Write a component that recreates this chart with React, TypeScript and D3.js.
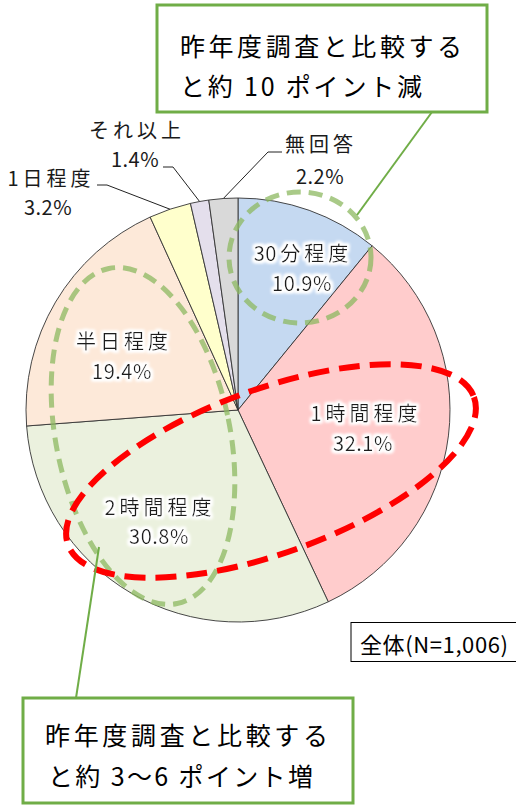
import React from "react";
import * as d3 from "d3";

// ---- data ----
const categories = ["30分程度", "1時間程度", "2時間程度", "半日程度", "1日程度", "それ以上", "無回答"];
const percents = [10.9, 32.1, 30.8, 19.4, 3.2, 1.4, 2.2];
const sliceColors = ["#c5d9f1", "#ffcccc", "#ebf1de", "#fde9d9", "#ffffcc", "#e4dfec", "#d9d9d9"];
const sampleLabel = "全体(N=1,006)";
const noteTop = ["昨年度調査と比較する", "と約 10 ポイント減"];
const noteBottom = ["昨年度調査と比較する", "と約 3〜6 ポイント増"];

// ---- layout (label placement) ----
const CX = 238, CY = 410, R = 212;
const nameX = [301, 364, 158, 122, 49, 135, 319];
const nameY = [252, 412, 506, 340, 177, 129, 143];
const pctX = [302, 363, 159, 122, 48, 135, 320];
const pctY = [282, 442, 535, 370, 206, 158, 175];
const inside = [true, true, true, true, false, false, false];
// leader elbow: [xLabelSide, xElbow, y]
const elbows: Record<number, [number, number, number]> = {
  4: [97, 107, 185],
  5: [163, 173, 167],
  6: [282, 268, 152],
};

const FONT = "'Noto Sans CJK JP', 'Noto Sans', sans-serif";

function Name({ text, x, y }: { text: string; x: number; y: number }) {
  const m = text.match(/^(\d*)(.*)$/) as RegExpMatchArray;
  const digits = m[1];
  const rest = m[2];
  return (
    <text x={x + 2} y={y} textAnchor="middle" dominantBaseline="central">
      {digits ? <tspan letterSpacing={0.5}>{digits.slice(0, -1)}</tspan> : null}
      {digits ? <tspan letterSpacing={4}>{digits.slice(-1)}</tspan> : null}
      <tspan letterSpacing={4}>{rest}</tspan>
    </text>
  );
}

export default function App() {
  const data = categories.map((c, i) => ({ name: c, value: percents[i], color: sliceColors[i], i }));
  const pie = d3.pie<any>().sort(null).value((d) => d.value).startAngle(0).endAngle(2 * Math.PI);
  const arcs = pie(data);
  const arc = d3.arc<any>().innerRadius(0).outerRadius(R);
  const edgeArc = d3.arc<any>().innerRadius(R).outerRadius(R);

  const green = "#8cb860";
  const boxGreen = "#70ad47";

  return (
    <svg width={516} height={805} style={{ position: "absolute", left: 0, top: 0, background: "#fff" }} fontFamily={FONT}>
      <defs>
        <filter id="glow" x="-20%" y="-40%" width="140%" height="180%">
          <feMorphology in="SourceAlpha" operator="dilate" radius="1.5" result="d" />
          <feGaussianBlur in="d" stdDeviation="1.6" result="b" />
          <feFlood floodColor="#ffffff" result="w" />
          <feComposite in="w" in2="b" operator="in" result="g" />
          <feMerge>
            <feMergeNode in="g" />
            <feMergeNode in="g" />
            <feMergeNode in="SourceGraphic" />
          </feMerge>
        </filter>
      </defs>

      <g transform={`translate(${CX},${CY})`}>
        {arcs.map((a, k) => (
          <path key={k} d={arc(a) as string} fill={a.data.color} stroke="#333" strokeWidth={0.9} />
        ))}
      </g>

      {/* leader lines */}
      {arcs.map((a, k) => {
        if (inside[k]) return null;
        const [px, py] = edgeArc.centroid(a);
        const e = elbows[k];
        return (
          <polyline
            key={"l" + k}
            points={`${e[0]},${e[2]} ${e[1]},${e[2]} ${CX + px},${CY + py}`}
            fill="none"
            stroke="#222"
            strokeWidth={1}
          />
        );
      })}

      {/* green dashed highlights */}
      <ellipse cx={300} cy={257.5} rx={71} ry={65.5} fill="none" stroke={green} strokeOpacity={0.75} strokeWidth={5} strokeDasharray="14 8" />
      <ellipse cx={0} cy={0} rx={87} ry={171} transform="translate(143,436) rotate(-11.5)" fill="none" stroke={green} strokeOpacity={0.75} strokeWidth={5} strokeDasharray="14 8" />

      {/* red dashed highlight */}
      <ellipse cx={0} cy={0} rx={216} ry={82} transform="translate(271,471) rotate(-20)" fill="none" stroke="#ff0000" strokeWidth={6} strokeDasharray="21 10" />

      {/* labels */}
      {arcs.map((a, k) => (
        <g key={"t" + k} filter={inside[k] ? "url(#glow)" : undefined} fill="#1a1a1a" fontSize={20}>
          <Name text={a.data.name} x={nameX[k]} y={nameY[k]} />
          <text x={pctX[k]} y={pctY[k]} textAnchor="middle" dominantBaseline="central" letterSpacing={0.5}>
            {a.data.value.toFixed(1)}%
          </text>
        </g>
      ))}

      {/* sample size box */}
      <rect x={351} y={622.5} width={180} height={39} fill="#fff" stroke="#000" strokeWidth={1} />
      <text x={360} y={643} fontSize={22} dominantBaseline="central" textLength={148} lengthAdjust="spacing" fill="#000">
        {sampleLabel}
      </text>

      {/* top note */}
      <line x1={432} y1={112} x2={357} y2={215} stroke={boxGreen} strokeWidth={2} />
      <rect x={157} y={5} width={330} height={107} fill="#fff" stroke={boxGreen} strokeWidth={3} />
      <text x={180} y={45} fontSize={25} dominantBaseline="central" textLength={282} lengthAdjust="spacing" fill="#000">
        {noteTop[0]}
      </text>
      <text x={180} y={85} fontSize={25} dominantBaseline="central" textLength={242} lengthAdjust="spacing" fill="#000">
        {noteTop[1]}
      </text>

      {/* bottom note */}
      <line x1={99} y1={547} x2={76} y2={698} stroke={boxGreen} strokeWidth={2} />
      <rect x={23} y={698} width={330} height={105} fill="#fff" stroke={boxGreen} strokeWidth={3} />
      <text x={45} y={734} fontSize={25} dominantBaseline="central" textLength={283} lengthAdjust="spacing" fill="#000">
        {noteBottom[0]}
      </text>
      <text x={48} y={775} fontSize={25} dominantBaseline="central" textLength={265} lengthAdjust="spacing" fill="#000">
        {noteBottom[1]}
      </text>
    </svg>
  );
}
